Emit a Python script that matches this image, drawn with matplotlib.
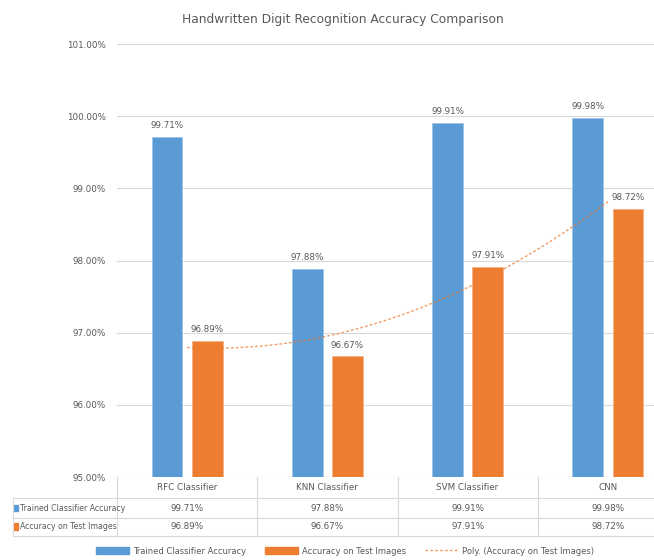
import numpy as np
import matplotlib
matplotlib.use("Agg")
import matplotlib.pyplot as plt
import matplotlib.transforms as mtransforms
from matplotlib.patches import Patch, Rectangle
from matplotlib.lines import Line2D

plt.rcParams['font.family'] = ['DejaVu Sans']

# data
categories = ["RFC Classifier", "KNN Classifier", "SVM Classifier", "CNN"]
trained_acc = [99.71, 97.88, 99.91, 99.98]
test_acc = [96.89, 96.67, 97.91, 98.72]
series_names = ["Trained Classifier Accuracy", "Accuracy on Test Images"]
yticks = [95, 96, 97, 98, 99, 100, 101]

blue = "#5B9BD5"
orange = "#ED7D31"
grid_c = "#D9D9D9"
txt_c = "#595959"
fs = 6.3

fig = plt.figure(figsize=(6.54, 5.6), dpi=100)
W, H = 654, 560
ax = fig.add_axes([117 / W, (H - 477) / H, (678 - 117) / W, (477 - 44) / H])

x = np.arange(len(categories))
w = 0.22
off = 0.143
b1 = ax.bar(x - off, trained_acc, w, color=blue, edgecolor="#9DC3E6", linewidth=0.6, zorder=2)
b2 = ax.bar(x + off, test_acc, w, color=orange, edgecolor="#F4B183", linewidth=0.6, zorder=2)

for bars, vals in ((b1, trained_acc), (b2, test_acc)):
    for r, v in zip(bars, vals):
        ax.annotate(f"{v:.2f}%", (r.get_x() + r.get_width() / 2, v), xytext=(0, 5),
                    textcoords="offset points", ha="center", va="bottom",
                    fontsize=fs, color=txt_c)

# polynomial (order 2) trendline on test accuracy, like excel
coef = np.polyfit(x, test_acc, 2)
xs = np.linspace(x[0], x[-1], 200)
ax.plot(xs, np.polyval(coef, xs), color=orange, lw=1, alpha=0.75,
        linestyle=(0, (2, 1.5)), zorder=3)

ax.set_ylim(95, 101)
ax.set_xlim(-0.5, 3.5)
ax.set_yticks(yticks)
ax.set_yticklabels([f"{t:.2f}%" for t in yticks], fontsize=fs, color=txt_c)
ax.set_xticks([])
ax.tick_params(axis="y", length=0, pad=8)
ax.grid(axis="y", color=grid_c, lw=0.8, zorder=0)
for s in ax.spines.values():
    s.set_visible(False)

fig.text(343 / W, 1 - 19 / H, "Handwritten Digit Recognition Accuracy Comparison",
         ha="center", va="center", fontsize=8.8, color=txt_c)

# data table under the axis
tr = mtransforms.blended_transform_factory(ax.transData, ax.transAxes)
rows = [0, -0.0485, -0.0947, -0.136]
left = -1.243
ln = dict(color=grid_c, lw=0.8, transform=tr, clip_on=False)
for yy in rows[1:]:
    ax.plot([left, 3.5], [yy, yy], **ln)
ax.plot([left, left], [rows[1], rows[3]], **ln)
for xx in np.arange(-0.5, 3.0, 1.0):
    ax.plot([xx, xx], [rows[0], rows[3]], **ln)

for i, c in enumerate(categories):
    ax.text(i, (rows[0] + rows[1]) / 2, c, transform=tr, ha="center", va="center",
            fontsize=fs, color=txt_c)
    ax.text(i, (rows[1] + rows[2]) / 2, f"{trained_acc[i]:.2f}%", transform=tr,
            ha="center", va="center", fontsize=fs, color=txt_c)
    ax.text(i, (rows[2] + rows[3]) / 2, f"{test_acc[i]:.2f}%", transform=tr,
            ha="center", va="center", fontsize=fs, color=txt_c)

for k, (name, col) in enumerate(zip(series_names, (blue, orange))):
    yc = (rows[k + 1] + rows[k + 2]) / 2
    ax.add_patch(Rectangle((-1.232, yc - 0.008), 0.028, 0.016, transform=tr,
                           color=col, clip_on=False))
    ax.text(-1.192, yc, name, transform=tr, ha="left", va="center",
            fontsize=5.6, color=txt_c)

handles = [Patch(color=blue), Patch(color=orange),
           Line2D([0], [0], color=orange, lw=1, alpha=0.75, linestyle=(0, (2, 1.5)))]
labels = series_names + ["Poly. (Accuracy on Test Images)"]
leg = fig.legend(handles, labels, loc="center", ncol=3, frameon=False,
                 bbox_to_anchor=(345 / W, 1 - 551 / H), fontsize=6,
                 handlelength=4, handleheight=0.8, columnspacing=2.2, handletextpad=0.5)
for t in leg.get_texts():
    t.set_color(txt_c)

fig.savefig("out.png", dpi=100)
